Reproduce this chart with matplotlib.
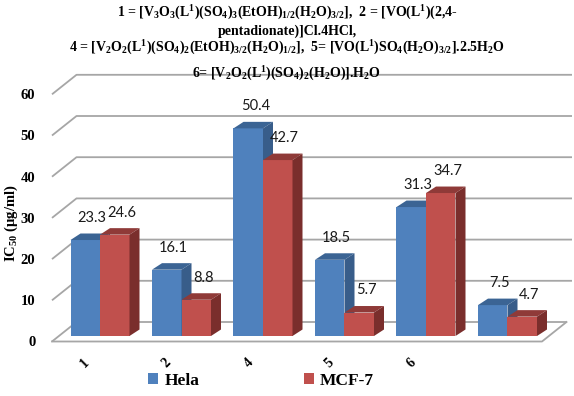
import matplotlib
matplotlib.use("Agg")
import matplotlib.pyplot as plt
from matplotlib.patches import Polygon, Patch
from matplotlib.transforms import blended_transform_factory

plt.rcParams['mathtext.default'] = 'regular'

categories = ["1", "2", "4", "5", "6", ""]
hela = [23.3, 16.1, 50.4, 18.5, 31.3, 7.5]
mcf7 = [24.6, 8.8, 42.7, 5.7, 34.7, 4.7]
yticks = [0, 10, 20, 30, 40, 50, 60]
series_names = ["Hela", "MCF-7"]

title_lines = [
    r"1 = [V$_3$O$_3$(L$^1$)(SO$_4$)$_3$(EtOH)$_{1/2}$(H$_2$O)$_{3/2}$],  2 = [VO(L$^1$)(2,4-",
    r"pentadionate)]Cl.4HCl,",
    r"4 = [V$_2$O$_2$(L$^1$)(SO$_4$)$_2$(EtOH)$_{3/2}$(H$_2$O)$_{1/2}$],  5= [VO(L$^1$)SO$_4$(H$_2$O)$_{3/2}$].2.5H$_2$O",
    r"6= [V$_2$O$_2$(L$^1$)(SO$_4$)$_2$(H$_2$O)].H$_2$O",
]

W, H = 574, 396
fig = plt.figure(figsize=(W / 100, H / 100), dpi=100)

# geometry (pixels -> data units)
px_per_cat = 81.5
px_per_val = 4.12
x0_px = 100.0          # boundary between first pair of bars
ax_left_px, ax_right_px = 52.0, 574.0
ax_bottom_px, ax_top_px = 341.5, 60.0

ax = fig.add_axes([ax_left_px / W, (H - ax_bottom_px) / H,
                   (ax_right_px - ax_left_px) / W, (ax_bottom_px - ax_top_px) / H])
xlim = ((ax_left_px - x0_px) / px_per_cat, (ax_right_px - x0_px) / px_per_cat)
ylim = (0, (ax_bottom_px - ax_top_px) / px_per_val)
ax.set_xlim(*xlim)
ax.set_ylim(*ylim)
for s in ax.spines.values():
    s.set_visible(False)
ax.set_xticks([])

# wall/floor depth
gdx = 24.5 / px_per_cat
gdy = 19.5 / px_per_val
xL = xlim[0]
x_floor_right = (542 - x0_px) / px_per_cat
x_grid_right = (572 - x0_px) / px_per_cat
gcol = "#a6a6a6"
for v in yticks:
    if v == 0:
        xs = [xL, xL + gdx, x_floor_right + gdx]
    else:
        xs = [xL, xL + gdx, x_grid_right]
    ax.plot(xs, [v, v + gdy, v + gdy], color=gcol, lw=1.3, zorder=1,
            clip_on=False, solid_capstyle='butt')
# floor front and right edges
ax.plot([xL, x_floor_right, x_floor_right + gdx], [0, 0, gdy],
        color=gcol, lw=1.3, zorder=1, clip_on=False)

# y ticks
ax.set_yticks(yticks)
ax.set_yticklabels([str(t) for t in yticks], fontfamily="Liberation Serif",
                   fontweight="bold", fontsize=10.5)
ax.tick_params(axis='y', length=0, pad=12)

# bars
bw = 29.5 / px_per_cat
base = 5.5 / px_per_val
bdx = 10 / px_per_cat
bdy = 6.5 / px_per_val
colors = {
    "Hela": ("#4F81BD", "#3B6494", "#385D8A"),
    "MCF-7": ("#C0504D", "#8F3A38", "#7A2E2C"),
}

def bar3d(xl, val, cols):
    front, top, side = cols
    y0, y1 = base, base + val
    ax.add_patch(Polygon([(xl, y0), (xl + bw, y0), (xl + bw, y1), (xl, y1)],
                         closed=True, fc=front, ec='none', zorder=3))
    ax.add_patch(Polygon([(xl, y1), (xl + bw, y1), (xl + bw + bdx, y1 + bdy),
                          (xl + bdx, y1 + bdy)], closed=True, fc=top, ec='none', zorder=3))
    ax.add_patch(Polygon([(xl + bw, y0), (xl + bw + bdx, y0 + bdy),
                          (xl + bw + bdx, y1 + bdy), (xl + bw, y1)],
                         closed=True, fc=side, ec='none', zorder=3))
    ax.text(xl + bw / 2 + bdx * 0.7, y1 + bdy + 2.8, f"{val}", ha='center',
            va='baseline', fontfamily="Lato", fontsize=10.5, color="#1a1a1a", zorder=5)

for i, (h, m) in enumerate(zip(hela, mcf7)):
    bar3d(i - bw, h, colors["Hela"])
    bar3d(i, m, colors["MCF-7"])

# category labels
trans = blended_transform_factory(ax.transData, ax.transAxes)
for i, c in enumerate(categories):
    if c:
        ax.text(i - 0.18, -0.075, c, transform=trans, rotation=45, ha='center',
                va='center', fontfamily="Liberation Serif", fontweight="bold",
                fontsize=10)

# y label
fig.text(11 / W, 1 - 223 / H, r"IC$_{50}$ (µg/ml)", rotation=90, ha='center',
         va='center', fontfamily="Liberation Serif", fontweight="bold", fontsize=10.5)

# title
for txt, ypx in zip(title_lines, [13, 31, 48, 74]):
    fig.text(0.5, 1 - ypx / H, txt, ha='center', va='center',
             fontfamily="Liberation Serif", fontweight="bold", fontsize=10, zorder=10)

# legend
handles = [Patch(fc=colors[n][0], ec='none') for n in series_names]
fig.legend(handles, series_names, loc='center', bbox_to_anchor=(261 / W, 1 - 381 / H),
           ncol=2, frameon=False, handlelength=0.6, handleheight=0.6,
           handletextpad=0.35, columnspacing=6.0,
           prop={'family': 'Liberation Serif', 'weight': 'bold', 'size': 12.5})

fig.savefig("out.png", dpi=100)
